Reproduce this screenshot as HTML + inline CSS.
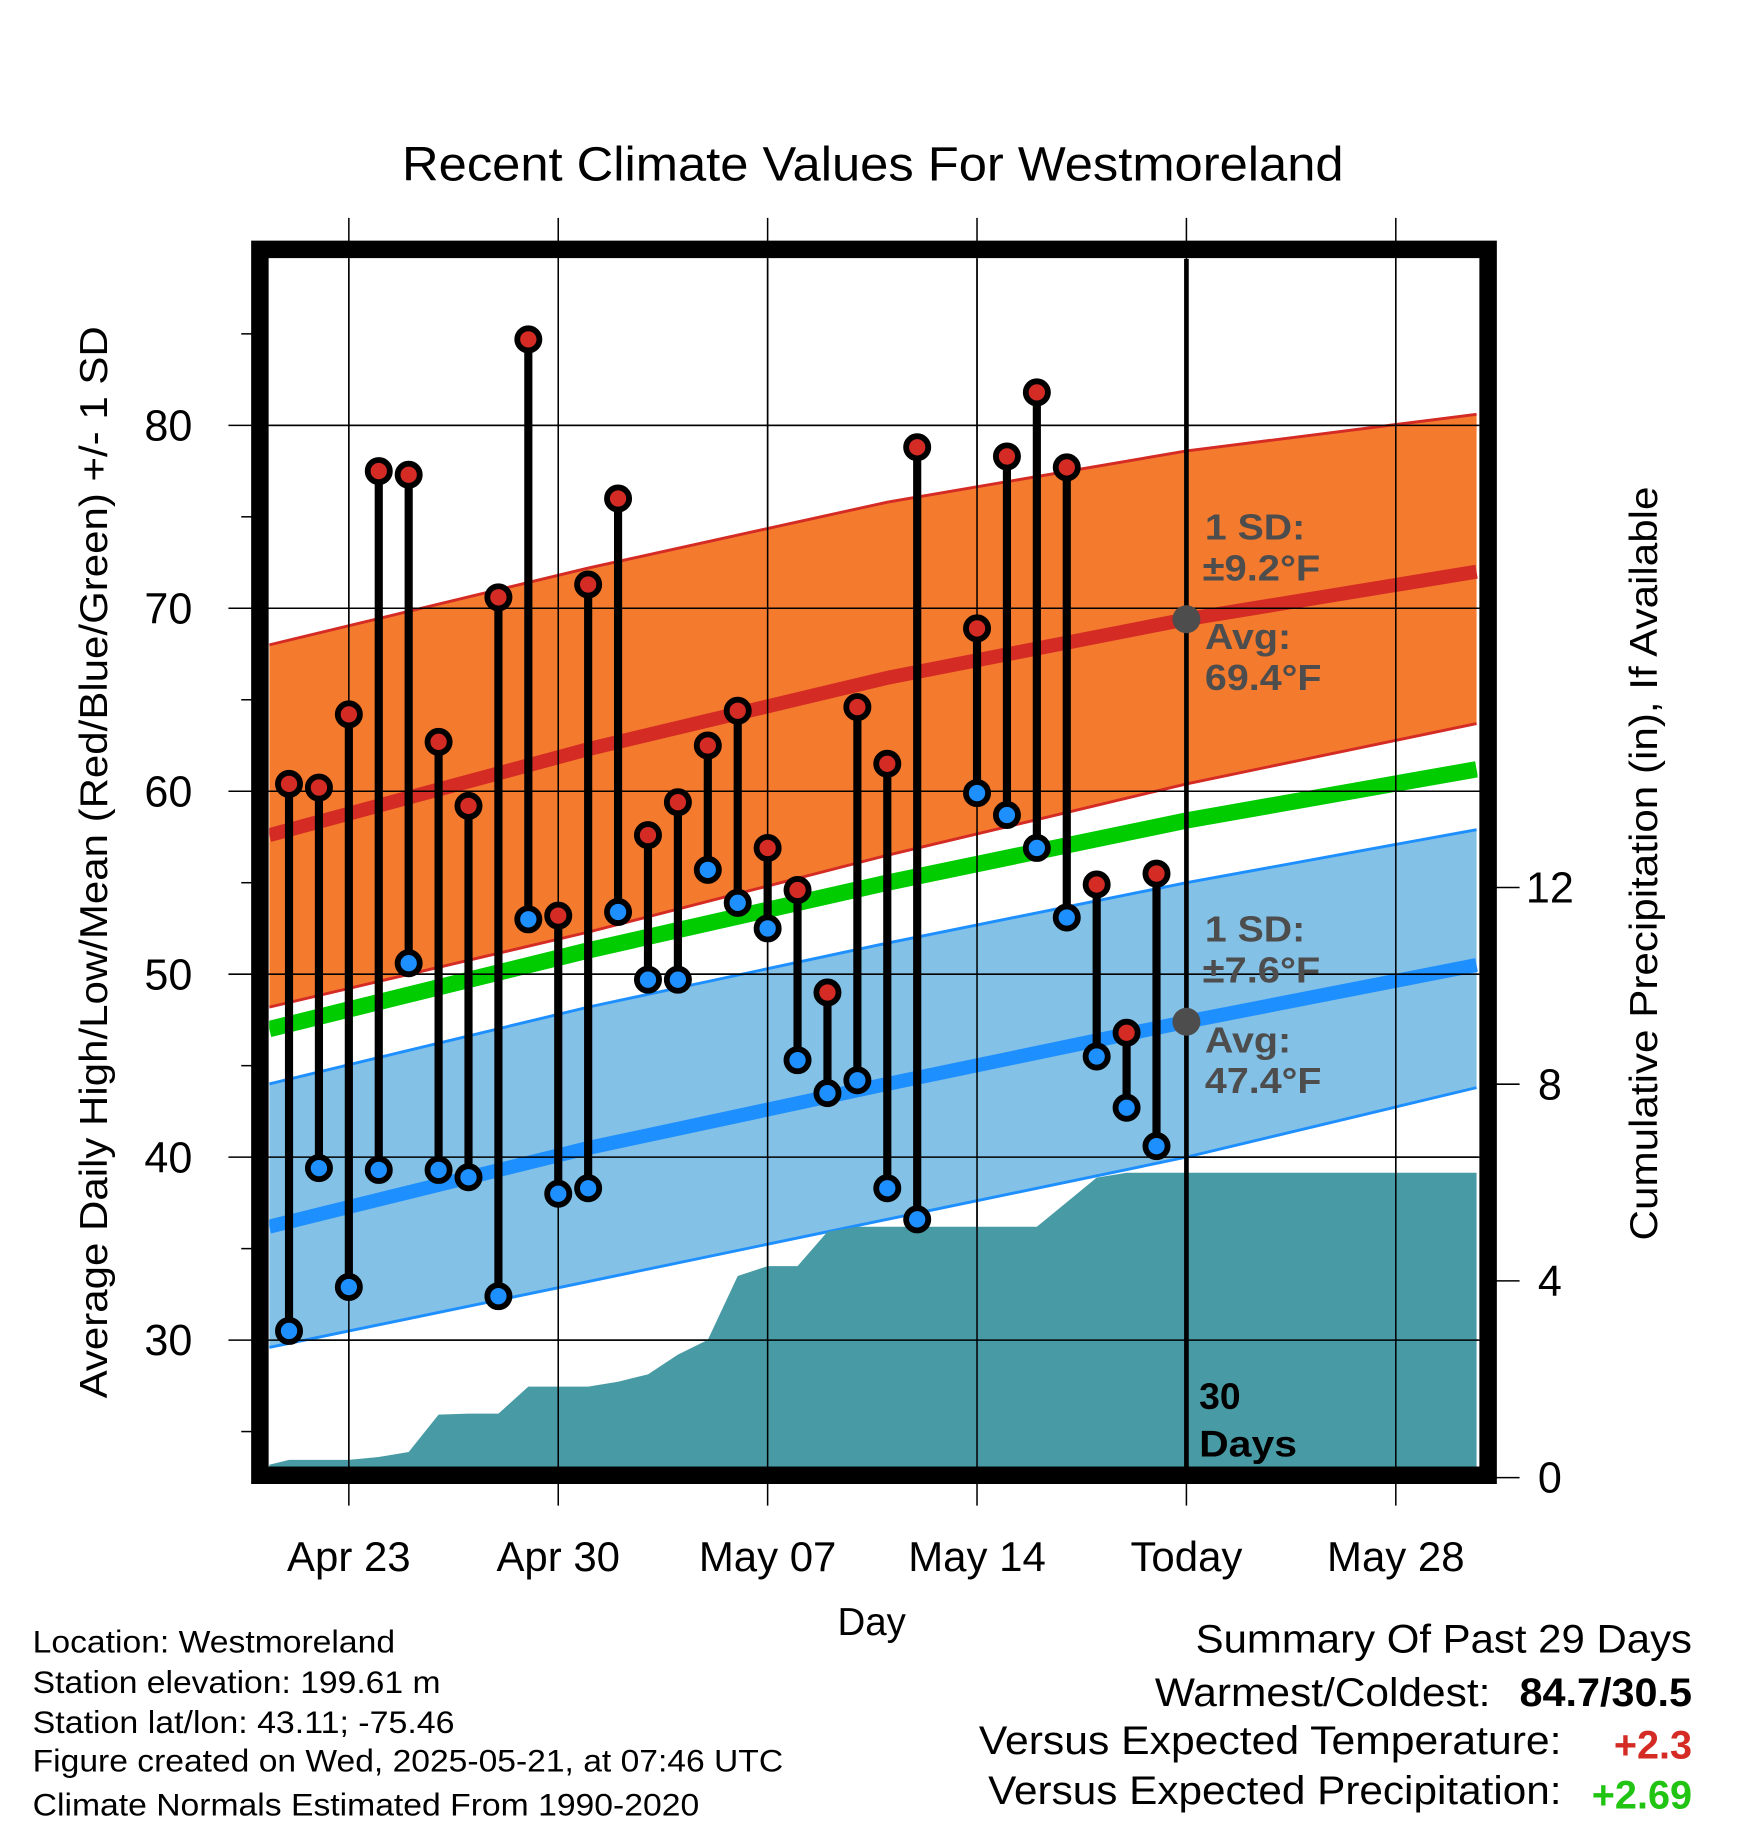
<!DOCTYPE html>
<html><head><meta charset="utf-8"><style>html,body{margin:0;padding:0;background:#fff}svg{display:block}text{font-family:"Liberation Sans",sans-serif}</style></head>
<body>
<svg id="chart" width="1748" height="1828" viewBox="0 0 1500 1568.7">
<text x="749" y="155" text-anchor="middle" font-size="41" textLength="808" lengthAdjust="spacingAndGlyphs">Recent Climate Values For Westmoreland</text>
<g id="grid"></g>
<g id="plot"></g>
<rect x="223" y="214" width="1054" height="1052" fill="none" stroke="#000" stroke-width="15"/>
<g id="axes"></g>
<text transform="translate(92,740) rotate(-90)" text-anchor="middle" font-size="33" textLength="920" lengthAdjust="spacingAndGlyphs">Average Daily High/Low/Mean (Red/Blue/Green) +/- 1 SD</text>
<text transform="translate(1422,741) rotate(-90)" text-anchor="middle" font-size="33" textLength="647" lengthAdjust="spacingAndGlyphs">Cumulative Precipitation (in), If Available</text>
<text x="748" y="1403" text-anchor="middle" font-size="33">Day</text>
<g font-size="27">
<text x="28" y="1418" textLength="311" lengthAdjust="spacingAndGlyphs">Location: Westmoreland</text>
<text x="28" y="1453" textLength="350" lengthAdjust="spacingAndGlyphs">Station elevation: 199.61 m</text>
<text x="28" y="1487" textLength="362" lengthAdjust="spacingAndGlyphs">Station lat/lon: 43.11; -75.46</text>
<text x="28" y="1520" textLength="644" lengthAdjust="spacingAndGlyphs">Figure created on Wed, 2025-05-21, at 07:46 UTC</text>
<text x="28" y="1558" textLength="572" lengthAdjust="spacingAndGlyphs">Climate Normals Estimated From 1990-2020</text>
</g>
<g font-size="34">
<text x="1026" y="1418" textLength="426" lengthAdjust="spacingAndGlyphs">Summary Of Past 29 Days</text>
<text x="991" y="1464" textLength="288" lengthAdjust="spacingAndGlyphs">Warmest/Coldest:</text>
<text x="1304" y="1464" font-weight="bold" textLength="148" lengthAdjust="spacingAndGlyphs">84.7/30.5</text>
<text x="840" y="1505" textLength="500" lengthAdjust="spacingAndGlyphs">Versus Expected Temperature:</text>
<text x="1452" y="1509" text-anchor="end" font-weight="bold" fill="#d42b24">+2.3</text>
<text x="848" y="1548" textLength="492" lengthAdjust="spacingAndGlyphs">Versus Expected Precipitation:</text>
<text x="1452" y="1552" text-anchor="end" font-weight="bold" fill="#22c414">+2.69</text>
</g>
</svg>
<script>
// Data
const days = ["Apr 21","Apr 22","Apr 23","Apr 24","Apr 25","Apr 26","Apr 27","Apr 28","Apr 29","Apr 30","May 01","May 02","May 03","May 04","May 05","May 06","May 07","May 08","May 09","May 10","May 11","May 12","May 14","May 15","May 16","May 17","May 18","May 19","May 20"];
const dayIdx = [0,1,2,3,4,5,6,7,8,9,10,11,12,13,14,15,16,17,18,19,20,21,23,24,25,26,27,28,29];
const highs = [60.4,60.2,64.2,77.5,77.3,62.7,59.2,70.6,84.7,53.2,71.3,76.0,57.6,59.4,62.5,64.4,56.9,54.6,49.0,64.6,61.5,78.8,68.9,78.3,81.8,77.7,54.9,46.8,55.5];
const lows = [30.5,39.4,32.9,39.3,50.6,39.3,38.9,32.4,53.0,38.0,38.3,53.4,49.7,49.7,55.7,53.9,52.5,45.3,43.5,44.2,38.3,36.6,59.9,58.7,56.9,53.1,45.5,42.7,40.6];
const precipDays = [0,1,2,3,4,5,6,7,8,9,10,11,12,13,14,15,16,17,18,19,20,21,22,23,24,25,26,27,28,29];
const precip = [0.36,0.36,0.36,0.42,0.52,1.28,1.30,1.30,1.85,1.85,1.85,1.95,2.10,2.50,2.80,4.10,4.30,4.30,5.00,5.10,5.10,5.10,5.10,5.10,5.10,5.10,5.60,6.10,6.20,6.20];
const normDays = [-0.66,10,20,30,39.7];
const redUpper = [68.0,72.2,75.8,78.6,80.6];
const redMean = [57.6,62.3,66.2,69.4,72.0];
const redLower = [48.2,52.3,56.5,60.4,63.7];
const greenMean = [47.0,51.3,55.0,58.4,61.2];
const blueUpper = [44.0,48.2,51.7,55.0,57.9];
const blueMean = [36.2,40.5,44.0,47.4,50.5];
const blueLower = [29.6,33.2,36.6,40.0,43.8];
const xTickDays = [2,9,16,23,30,37];
const xTickLabels = ["Apr 23","Apr 30","May 07","May 14","Today","May 28"];
const yTicks = [30,40,50,60,70,80];
const pTicks = [0,4,8,12];

const NS="http://www.w3.org/2000/svg";
const X0=248, DX=25.67;
const x = d => X0 + d*DX;
const y = t => 365 + (80-t)*15.7;
const yp = p => 1268 - p*42.2;
const L=231,R=1268,T=222,B=1259;
function mk(tag, attrs, parent){const e=document.createElementNS(NS,tag);for(const k in attrs)e.setAttribute(k,attrs[k]);parent.appendChild(e);return e;}
const grid=document.getElementById('grid'), plot=document.getElementById('plot'), axes=document.getElementById('axes');

const defs=mk('defs',{},document.getElementById('chart'));
const cp=mk('clipPath',{id:'clip'},defs); mk('rect',{x:L,y:T,width:R-L,height:B-T},cp);
plot.setAttribute('clip-path','url(#clip)');

function pts(arr){return normDays.map((d,i)=>x(d)+','+y(arr[i]));}
function band(up,lo,fill,stroke,name){
  const p=pts(up).concat(pts(lo).reverse()).join(' ');
  const b=mk('polygon',{points:p,fill:fill},plot);
  
  
  [up,lo].forEach(a=>{const l=mk('polyline',{points:pts(a).join(' '),fill:'none',stroke:stroke,'stroke-width':2.5},plot);
    
    });
}
band(redUpper,redLower,'#f47a2e','#d42b24','high-sd-band');
band(blueUpper,blueLower,'#83c1e6','#1e8fff','low-sd-band');
function line(a,c,w,name){const l=mk('polyline',{points:pts(a).join(' '),fill:'none',stroke:c,'stroke-width':w},plot);
  
  }
line(redMean,'#d42b24',12,'high-mean-line');
line(greenMean,'#00cc00',14,'mean-line');
line(blueMean,'#1e8fff',12,'low-mean-line');

let pp=[x(-0.66)+','+yp(0), x(-0.66)+','+yp(precip[0]-0.1)];
precipDays.forEach((d,i)=>pp.push(x(d)+','+yp(precip[i])));
pp.push(x(39.7)+','+yp(precip[precip.length-1]));
pp.push(x(39.7)+','+yp(0));
const pa=mk('polygon',{points:pp.join(' '),fill:'#489ba4'},plot);



xTickDays.forEach(d=>{const g=mk('line',{x1:x(d),x2:x(d),y1:187,y2:1292,stroke:'#000','stroke-width':1.3},grid);
  
  });
yTicks.forEach(t=>{const g=mk('line',{x1:196,x2:1270,y1:y(t),y2:y(t),stroke:'#000','stroke-width':1.3},grid);
  
  });
[35,45,55,65,75,85,25].forEach(t=>{mk('line',{x1:207,x2:216,y1:y(t),y2:y(t),stroke:'#000','stroke-width':1.3},axes);});
xTickDays.forEach(d=>{mk('line',{x1:x(d),x2:x(d),y1:T,y2:B,stroke:'#000','stroke-width':1.3},plot);});
yTicks.forEach(t=>{mk('line',{x1:L,x2:R,y1:y(t),y2:y(t),stroke:'#000','stroke-width':1.3},plot);});

const tl=mk('line',{x1:x(30),x2:x(30),y1:T,y2:B,stroke:'#000','stroke-width':4},plot);



dayIdx.forEach((d,i)=>{
  const s=mk('line',{x1:x(d),x2:x(d),y1:y(highs[i]),y2:y(lows[i]),stroke:'#000','stroke-width':7},plot);
  
  
});
dayIdx.forEach((d,i)=>{
  const h=mk('circle',{cx:x(d),cy:y(highs[i]),r:9.5,fill:'#d42b24',stroke:'#000','stroke-width':5},plot);
  
  
  const l=mk('circle',{cx:x(d),cy:y(lows[i]),r:9.5,fill:'#1e8fff',stroke:'#000','stroke-width':5},plot);
  
  
});
[[69.4],[47.4]].forEach(v=>{const c=mk('circle',{cx:x(30),cy:y(v[0]),r:12,fill:'#4d4d4d'},plot);
  
  });
function txt(s,tx,ty,attrs,name){const e=mk('text',Object.assign({x:tx,y:ty},attrs),document.getElementById('chart'));e.textContent=s;
  
  return e;}
const an={'font-size':31,'font-weight':'bold',fill:'#4d4d4d',lengthAdjust:'spacingAndGlyphs'};
txt('1 SD:',1034,463,Object.assign({textLength:86},an),'high-sd-label');
txt('±9.2°F',1032,498,Object.assign({textLength:101},an),'high-sd-value');
txt('Avg:',1034,557,Object.assign({textLength:74},an),'high-avg-label');
txt('69.4°F',1034,592,Object.assign({textLength:100},an),'high-avg-value');
txt('1 SD:',1034,808,Object.assign({textLength:86},an),'low-sd-label');
txt('±7.6°F',1032,843,Object.assign({textLength:101},an),'low-sd-value');
txt('Avg:',1034,903,Object.assign({textLength:74},an),'low-avg-label');
txt('47.4°F',1034,938,Object.assign({textLength:100},an),'low-avg-value');
txt('30',1029,1209,{'font-size':32,'font-weight':'bold'},'days-count');
txt('Days',1029,1250,{'font-size':32,'font-weight':'bold',textLength:84,lengthAdjust:'spacingAndGlyphs'},'days-label');

yTicks.forEach(t=>txt(String(t),165,y(t)+13,{'font-size':37,'text-anchor':'end'},'y-tick-label'));
pTicks.forEach(p=>{mk('line',{x1:1284,x2:1304,y1:yp(p),y2:yp(p),stroke:'#000','stroke-width':1.3},axes);
  txt(String(p),1330,yp(p)+13,{'font-size':37,'text-anchor':'middle'},'right-tick-label');});
xTickDays.forEach((d,i)=>txt(xTickLabels[i],x(d),1348,{'font-size':36,'text-anchor':'middle'},'x-tick-label'));
</script>
</body></html>
